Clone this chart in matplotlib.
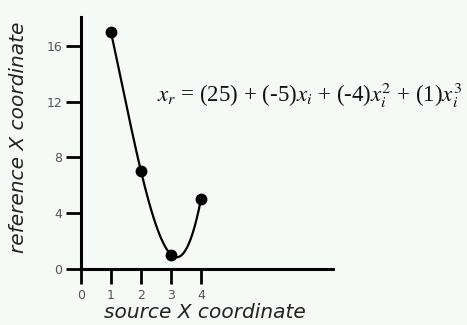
import numpy as np
import matplotlib
matplotlib.use("Agg")
import matplotlib.pyplot as plt

# source x, reference x for the control points
src_x = [1, 2, 3, 4]
ref_x = [17, 7, 1, 5]
# polynomial coefficients, constant term first
coeffs = [25, -5, -4, 1]
x_ticks = [0, 1, 2, 3, 4]
y_ticks = [0, 4, 8, 12, 16]

plt.rcParams["mathtext.fontset"] = "stix"
bg = "#f6faf7"

fig = plt.figure(figsize=(4.67, 3.25), dpi=100, facecolor=bg)
ax = fig.add_axes([81 / 467, (325 - 268.5) / 325, (333 - 81) / 467, (268.5 - 17) / 325])
ax.set_facecolor(bg)

xs = np.linspace(src_x[0], src_x[-1], 200)
ys = np.polynomial.polynomial.polyval(xs, coeffs)
ax.plot(xs, ys, color="black", lw=1.6, solid_capstyle="round")
ax.plot(src_x, ref_x, "o", color="black", ms=7.5)

ax.set_xlim(0, (333 - 81) / 30)
ax.set_ylim(0, (268.5 - 17) / 13.9)
ax.set_xticks(x_ticks)
ax.set_yticks(y_ticks)
for s in ["top", "right"]:
    ax.spines[s].set_visible(False)
for s in ["left", "bottom"]:
    ax.spines[s].set_linewidth(2.2)
ax.tick_params(direction="out", length=10.5, width=2.0, labelsize=9,
               labelcolor="#555555")
ax.tick_params(axis="x", pad=4)
ax.tick_params(axis="y", pad=3)

fig.text(205 / 467, 1 - 313 / 325, "source X coordinate", style="italic",
         fontsize=14.5, color="#222222", ha="center", va="center")
fig.text(19 / 467, 1 - 137 / 325, "reference X coordinate", style="italic",
         fontsize=14.5, color="#222222", ha="center", va="center", rotation=90)

formula = (r"$x_r$ = (%d) + (%d)$x_i$ + (%d)$x_i^2$ + (%d)$x_i^3$"
           % tuple(coeffs))
fig.text(157 / 467, 1 - 95 / 325, formula, family="Liberation Serif",
         fontsize=16.5, color="#111111", ha="left", va="center")

fig.savefig("out.png", dpi=100, facecolor=bg)
